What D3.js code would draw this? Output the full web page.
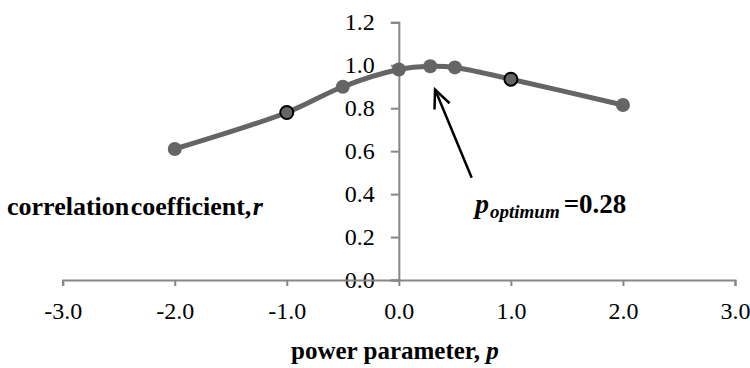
<!DOCTYPE html>
<html>
<head>
<meta charset="utf-8">
<script src="https://cdn.jsdelivr.net/npm/d3@7"></script>
<style>
  body { margin: 0; background: #fff; }
  svg text { font-family: "Liberation Serif", "Times New Roman", Times, serif; }
</style>
</head>
<body>
<div id="chart"></div>
<script>
const pValues = [-2, -1, -0.5, 0, 0.28, 0.5, 1, 2];
const rValues = [0.61, 0.78, 0.90, 0.98, 0.995, 0.99, 0.935, 0.815];
const outlinedP = [-1, 1];
const xTickValues = [-3, -2, -1, 0, 1, 2, 3];
const yTickValues = [0, 0.2, 0.4, 0.6, 0.8, 1.0, 1.2];

const width = 750, height = 368;
const serif = '"Liberation Serif", "Times New Roman", Times, serif';
const data = pValues.map((p, i) => ({ p: p, r: rValues[i] }));

const svg = d3.select('#chart').append('svg')
    .attr('width', width)
    .attr('height', height)
    .attr('font-family', serif);

const x = d3.scaleLinear().domain([-3, 3]).range([62.7, 735]);
const y = d3.scaleLinear().domain([0, 1.2]).range([280, 22.3]);

const axisColor = '#868686';

// y axis crosses at p = 0
const yAxis = d3.axisLeft(y)
    .tickValues(yTickValues)
    .tickSize(8)
    .tickPadding(16)
    .tickFormat(d => d.toFixed(1));

const gy = svg.append('g')
    .attr('transform', 'translate(' + x(0) + ',0)')
    .call(yAxis);

// x axis crosses at r = 0, drawn after so it runs through the "0.0" label
const xAxis = d3.axisBottom(x)
    .tickValues(xTickValues)
    .tickSize(6)
    .tickPadding(16)
    .tickFormat(d => d.toFixed(1));

const gx = svg.append('g')
    .attr('transform', 'translate(0,' + y(0) + ')')
    .call(xAxis);

[gx, gy].forEach(g => {
    g.attr('font-family', serif);
    g.select('.domain').attr('stroke', axisColor).attr('stroke-width', 2);
    g.selectAll('.tick line').attr('stroke', axisColor).attr('stroke-width', 2);
    g.selectAll('.tick text')
        .attr('fill', '#000')
        .style('font-size', '24px')
        .style('font-family', serif);
});

// smoothed series line
const line = d3.line()
    .x(d => x(d.p))
    .y(d => y(d.r))
    .curve(d3.curveCatmullRom.alpha(0.5));

svg.append('path')
    .datum(data)
    .attr('fill', 'none')
    .attr('stroke', '#656565')
    .attr('stroke-width', 5)
    .attr('d', line);

svg.selectAll('circle.pt')
    .data(data)
    .enter()
    .append('circle')
    .attr('class', 'pt')
    .attr('cx', d => x(d.p))
    .attr('cy', d => y(d.r))
    .attr('r', d => outlinedP.includes(d.p) ? 6.5 : 7)
    .attr('fill', '#656565')
    .attr('stroke', d => outlinedP.includes(d.p) ? '#000' : 'none')
    .attr('stroke-width', 2);

// axis titles
svg.append('text')
    .attr('x', 7)
    .attr('y', 215)
    .style('font-size', '26px')
    .style('font-weight', 'bold')
    .style('word-spacing', '-5px')
    .html('correlation coefficient, <tspan font-style="italic">r</tspan>');

svg.append('text')
    .attr('x', x(0) - 4)
    .attr('y', 359)
    .attr('text-anchor', 'middle')
    .style('font-size', '25px')
    .style('font-weight', 'bold')
    .html('power parameter, <tspan font-style="italic">p</tspan>');

// annotation arrow pointing at the optimum
const tip = { p: 0.323, r: 0.887 };
const tail = { p: 0.65, r: 0.476 };
const tx = x(tip.p), ty = y(tip.r), sx = x(tail.p), sy = y(tail.r);
const ang = Math.atan2(ty - sy, tx - sx);
const head = 20, spread = 0.42;

svg.append('line')
    .attr('x1', sx).attr('y1', sy)
    .attr('x2', tx).attr('y2', ty)
    .attr('stroke', '#000')
    .attr('stroke-width', 2.5);

svg.append('polyline')
    .attr('points', [
        [tx - head * Math.cos(ang - spread), ty - head * Math.sin(ang - spread)],
        [tx, ty],
        [tx - head * Math.cos(ang + spread), ty - head * Math.sin(ang + spread)]
    ].map(pt => pt.join(',')).join(' '))
    .attr('fill', 'none')
    .attr('stroke', '#000')
    .attr('stroke-width', 2.5)
    .attr('stroke-linejoin', 'miter');

const label = svg.append('text')
    .attr('x', x(0.68))
    .attr('y', y(0.312))
    .style('font-weight', 'bold');

label.append('tspan')
    .attr('font-style', 'italic')
    .style('font-size', '28px')
    .text('p');
label.append('tspan')
    .attr('font-style', 'italic')
    .attr('dy', 5)
    .attr('dx', 1)
    .style('font-size', '19px')
    .text('optimum');
label.append('tspan')
    .attr('dy', -5)
    .attr('dx', 4)
    .style('font-size', '27px')
    .text('=0.28');
</script>
</body>
</html>
